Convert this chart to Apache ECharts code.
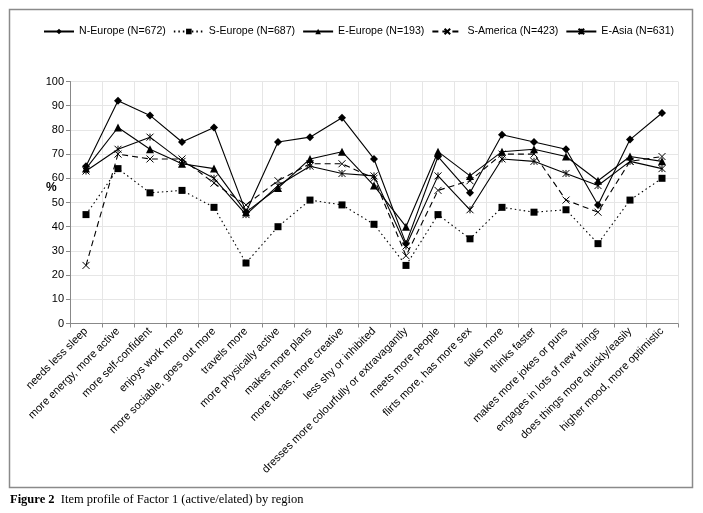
<!DOCTYPE html>
<html>
<head>
<meta charset="utf-8">
<script src="https://cdn.jsdelivr.net/npm/echarts@6/dist/echarts.min.js"></script>
<style>
html,body{margin:0;padding:0;background:#fff;}
#chart{width:703px;height:513px;}
</style>
</head>
<body>
<div id="chart"></div>
<script>
var categories = ["needs less sleep","more energy, more active","more self-confident","enjoys work more","more sociable, goes out more","travels more","more physically active","makes more plans","more ideas, more creative","less shy or inhibited","dresses more colourfully or extravagantly","meets more people","flirts more, has more sex","talks more","thinks faster","makes more jokes or puns","engages in lots of new things","does things more quickly/easily","higher mood, more optimistic"];
var nEurope  = [65,92,86,75,81,46,75,77,85,68,33,69,54,78,75,72,49,76,87];
var sEurope  = [45,64,54,55,48,25,40,51,49,41,24,45,35,48,46,47,33,51,60];
var eEurope  = [64,81,72,66,64,46,56,68,71,57,40,71,61,71,72,69,59,69,67];
var sAmerica = [24,70,68,68,58,49,59,66,66,60,28,55,59,70,70,51,46,67,69];
var eAsia    = [63,72,77,67,60,45,57,65,62,61,32,61,47,68,67,62,57,67,64];
var seriesNames = ["N-Europe (N=672)","S-Europe (N=687)","E-Europe (N=193)","S-America (N=423)","E-Asia (N=631)"];
var yTicks = {min:0, max:100, interval:10};

var font = "Liberation Sans, Arial, sans-serif";
var crossPath = 'path://M0,0L10,10M10,0L0,10';
var starPath = 'path://M0,0L10,10M10,0L0,10M5,0L5,10';

function mk(name, data, symbol, size, lineType, isPath) {
  return {
    name: name, type: 'line', data: data,
    symbol: symbol, symbolSize: size,
    showAllSymbol: true,
    lineStyle: {color:'#000', width:1.1, type: lineType},
    itemStyle: {color: isPath ? 'none' : '#000', borderColor:'#000', borderWidth: isPath ? 1 : 0},
    emphasis: {disabled:true},
    animation:false
  };
}

var chart = echarts.init(document.getElementById('chart'), null, {renderer:'canvas'});
chart.setOption({
  backgroundColor:'#fff',
  animation:false,
  legend: {
    top: 21, left: 38, width: 660,
    itemWidth: 30, itemHeight: 7, itemGap: 7,
    textStyle: {fontFamily: font, fontSize: 10.6, color:'#000'},
    data: seriesNames
  },
  grid: {left:70, right:25, top:81.5, bottom:189.5, containLabel:false},
  xAxis: {
    type:'category', data: categories, boundaryGap:true,
    axisLine:{lineStyle:{color:'#888', width:1}},
    axisTick:{show:true, length:4, lineStyle:{color:'#888'}},
    splitLine:{show:true, lineStyle:{color:'#e6e6e6', width:1}},
    axisLabel:{rotate:45, interval:0, fontFamily:font, fontSize:11, color:'#000', margin:6}
  },
  yAxis: {
    type:'value', min:yTicks.min, max:yTicks.max, interval:yTicks.interval,
    axisLine:{show:true, lineStyle:{color:'#888', width:1}},
    axisTick:{show:true, length:4, lineStyle:{color:'#888'}},
    splitLine:{show:true, lineStyle:{color:'#e6e6e6', width:1}},
    axisLabel:{fontFamily:font, fontSize:11, color:'#000', margin:6}
  },
  series: [
    mk(seriesNames[0], nEurope, 'diamond', 8, 'solid', false),
    mk(seriesNames[1], sEurope, 'rect', 7, [1.5,3], false),
    mk(seriesNames[2], eEurope, 'triangle', 8, 'solid', false),
    mk(seriesNames[3], sAmerica, crossPath, 7, [6,4], true),
    mk(seriesNames[4], eAsia, starPath, 7, 'solid', true)
  ],
  graphic: [
    {type:'rect', shape:{x:9.5, y:9.5, width:683, height:478}, style:{fill:'none', stroke:'#8a8a8a', lineWidth:1.5}, silent:true},
    {type:'text', left:46, top:182, style:{text:'%', font:'bold 12px ' + font, fill:'#000'}, silent:true},
    {type:'text', left:10, top:493, style:{
      text:'{b|Figure 2}  Item profile of Factor 1 (active/elated) by region',
      fontFamily:'Liberation Serif, Times New Roman, serif', fontSize:12.5, fill:'#000',
      rich:{b:{fontWeight:'bold', fontFamily:'Liberation Serif, Times New Roman, serif', fontSize:12.5}}
    }, silent:true}
  ]
});
</script>
</body>
</html>
